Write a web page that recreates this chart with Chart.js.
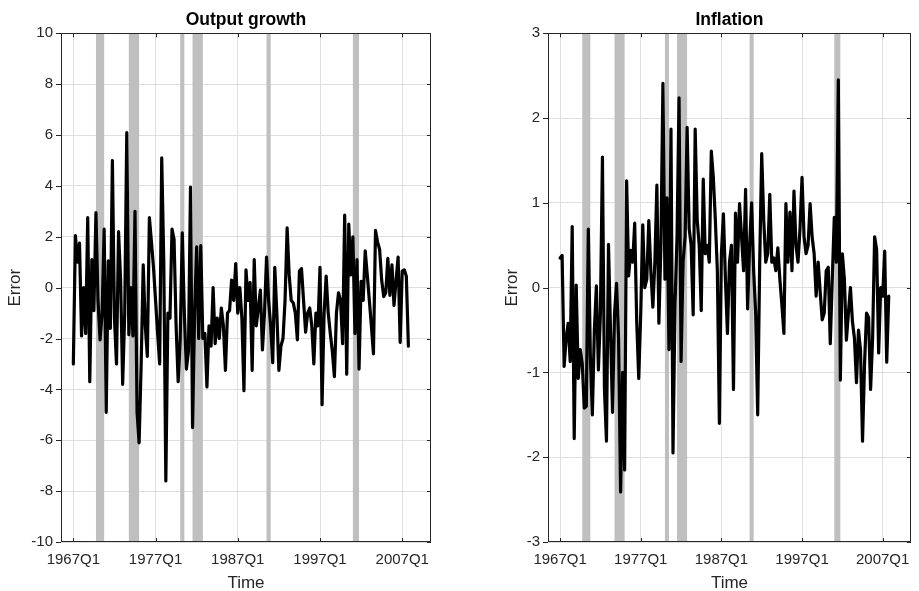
<!DOCTYPE html>
<html>
<head>
<meta charset="utf-8">
<script src="https://cdn.jsdelivr.net/npm/chart.js@4.4.1/dist/chart.umd.min.js"></script>
<style>
  body { margin: 0; background: #fff; }
  #wrap { position: relative; width: 919px; height: 591px; }
  canvas { position: absolute; top: 0; }
</style>
</head>
<body>
<div id="wrap">
  <canvas id="growthChart" width="460" height="591" style="left:0"></canvas>
  <canvas id="inflationChart" width="459" height="591" style="left:460px"></canvas>
</div>
<script>
// forecast errors, quarterly 1967Q1 - 2007Q4
const quarters = [];
for (let yr = 1967; yr <= 2007; yr++) {
  for (let q = 1; q <= 4; q++) quarters.push(yr + 'Q' + q);
}

const growthErrors = [
  -3.0, 2.05, 1.0, 1.75, -1.9, 0.0, -1.8, 2.75, -3.7, 1.1,
  -0.9, 2.95, -0.5, -2.05, -1.0, 2.3, -4.9, 1.05, -1.6, 5.0,
  -1.2, -3.0, 2.2, 0.3, -3.8, -1.0, 6.1, -1.85, 0.0, -1.9,
  3.0, -4.9, -6.1, -3.0, 0.9, -1.5, -2.7, 2.75, 1.8, 0.8,
  -0.5, -1.8, -3.0, 5.1, 1.0, -7.6, -1.0, -1.2, 2.3, 1.9,
  -1.5, -3.7, -2.0, 2.15, -1.0, -3.2, -2.5, 3.95, -5.5, -1.0,
  1.6, -2.0, 1.65, -2.0, -1.8, -3.9, -1.5, -2.3, 0.0, -2.2,
  -1.2, -2.0, -0.8, -1.5, -3.25, -1.0, -0.9, 0.3, -0.5, 0.95,
  -1.0, 0.0, -1.2, -4.05, 0.7, -0.5, 0.2, -3.25, 1.1, -1.5,
  -0.8, -0.1, -2.45, -1.0, 1.2, -0.5, -1.5, -2.95, 0.8, -1.0,
  -3.25, -2.3, -2.0, -0.5, 2.35, 0.5, -0.5, -0.6, -1.0, -2.05,
  0.65, 0.75, -0.5, -1.75, -1.0, -0.8, -1.5, -3.0, -1.0, -1.5,
  0.8, -4.6, -1.0, 0.45, -1.0, -1.8, -2.5, -3.5, -1.0, -0.2,
  -0.5, -2.2, 2.85, -3.4, 2.5, 0.5, 2.0, -1.8, 1.1, -3.2,
  0.25, -0.5, 1.45, 0.5, -0.5, -1.5, -2.6, 2.25, 1.8, 1.5,
  0.3, -0.35, -0.2, 1.15, -0.3, 0.9, -0.7, 0.3, 1.2, -2.15,
  0.65, 0.7, 0.45, -2.3
];

const inflationErrors = [
  0.35, 0.38, -0.93, -0.6, -0.42, -0.87, 0.72, -1.78, 0.03, -1.07,
  -0.73, -0.9, -1.42, -1.4, 0.69, -0.8, -1.5, -0.5, 0.02, -0.97,
  -0.3, 1.54, -1.2, -1.81, 0.51, -0.5, -1.47, -0.3, 0.05, -0.6,
  -2.41, -1.0, -2.15, 1.26, 0.14, 0.44, 0.3, 0.76, -0.4, -1.07,
  -0.3, 0.74, 0.0, 0.1, 0.79, 0.2, -0.23, 0.3, 1.21, -0.42,
  0.5, 2.41, 0.1, 1.06, -0.73, 1.87, -1.95, -0.2, 0.6, 2.24,
  -0.87, 0.3, 0.6, 1.89, 0.7, 0.5, -0.32, 1.87, 0.8, 0.5,
  -0.27, 1.28, 0.4, 0.5, 0.3, 1.61, 1.3, 0.8, 0.2, -1.6,
  0.4, 0.87, 0.1, -0.54, 0.3, 0.5, -1.2, 0.88, 0.3, 0.99,
  0.6, 0.2, 1.16, -0.25, 0.5, 1.0, 0.2, -0.3, -1.5, 0.3,
  1.58, 0.8, 0.3, 0.4, 1.1, 0.3, 0.35, 0.2, 0.47, 0.1,
  -0.2, -0.54, 0.99, 0.3, 0.89, 0.2, 1.14, 0.5, 0.3, 0.7,
  1.3, 0.6, 0.4, 0.5, 0.99, 0.6, 0.4, -0.1, 0.3, -0.05,
  -0.38, -0.3, 0.2, 0.24, -0.66, 0.1, 0.83, 0.3, 2.45, -1.09,
  0.4, 0.1, -0.62, -0.3, 0.0, -0.4, -0.6, -1.12, -0.5, -0.73,
  -1.81, -0.9, -0.3, -0.35, -1.2, -0.6, 0.6, 0.45, -0.77, 0.0,
  -0.1, 0.43, -0.88, -0.1
];

const tickYears = [1967, 1977, 1987, 1997, 2007];
const tickLabels = ['1967Q1', '1977Q1', '1987Q1', '1997Q1', '2007Q1'];

// NBER recessions (start / end as fractional years)
const recessionStart = [1969.75, 1973.75, 1980.0, 1981.5, 1990.5, 2001.0];
const recessionEnd   = [1970.75, 1975.0, 1980.5, 1982.75, 1991.0, 2001.75];

const axisColor = '#262626';
const fontFamily = "'Liberation Sans', Arial, sans-serif";

// "1967Q3" -> 1967.5
function quarterToYear(label) {
  const [yr, q] = label.split('Q');
  return Number(yr) + (Number(q) - 1) / 4;
}

const framePlugin = {
  id: 'frame',
  beforeDatasetsDraw(chart) {
    const { ctx, chartArea: a, scales: { x } } = chart;
    ctx.save();
    ctx.fillStyle = '#bfbfbf';
    recessionStart.forEach((s, k) => {
      const x0 = x.getPixelForValue(s);
      const x1 = x.getPixelForValue(recessionEnd[k]);
      ctx.fillRect(x0, a.top, x1 - x0, a.bottom - a.top);
    });
    ctx.restore();
  },
  afterDraw(chart) {
    const { ctx, chartArea: a, scales: { x, y } } = chart;
    ctx.save();
    ctx.strokeStyle = axisColor;
    ctx.lineWidth = 1;
    ctx.strokeRect(Math.round(a.left) + 0.5, Math.round(a.top) + 0.5,
                   Math.round(a.width) - 1, Math.round(a.height) - 1);
    ctx.beginPath();
    x.ticks.forEach(t => {
      const px = Math.round(x.getPixelForValue(t.value)) + 0.5;
      ctx.moveTo(px, a.bottom); ctx.lineTo(px, a.bottom - 4);
      ctx.moveTo(px, a.top); ctx.lineTo(px, a.top + 4);
    });
    y.ticks.forEach(t => {
      const py = Math.round(y.getPixelForValue(t.value)) + 0.5;
      ctx.moveTo(a.left - 5, py); ctx.lineTo(a.left, py);
      ctx.moveTo(a.right, py); ctx.lineTo(a.right - 4, py);
    });
    ctx.stroke();
    ctx.restore();
  }
};

function makeChart(id, title, values, o) {
  return new Chart(document.getElementById(id), {
    type: 'line',
    data: {
      datasets: [{
        data: quarters.map((q, i) => ({ x: quarterToYear(q), y: values[i] })),
        borderColor: '#000',
        borderWidth: 3.2,
        pointRadius: 0,
        tension: 0,
        borderJoinStyle: 'round',
        borderCapStyle: 'round'
      }]
    },
    options: {
      responsive: false,
      animation: false,
      layout: { padding: { left: 0, right: o.padRight, top: 0, bottom: 0 } },
      plugins: {
        legend: { display: false },
        tooltip: { enabled: false },
        title: {
          display: true,
          text: title,
          fullSize: false,
          color: '#000',
          font: { family: fontFamily, size: 17.5, weight: 'bold', lineHeight: 1.2 },
          padding: { top: 10, bottom: 2.3 }
        }
      },
      scales: {
        x: {
          type: 'linear',
          min: 1965.5,
          max: 2010.5,
          afterBuildTicks: s => { s.ticks = tickYears.map(v => ({ value: v })); },
          afterFit: s => { s.height = 49; },
          grid: { color: '#dfdfdf', drawTicks: false },
          border: { display: false },
          ticks: {
            autoSkip: false,
            maxRotation: 0,
            padding: 9,
            color: axisColor,
            font: { family: fontFamily, size: 15 },
            callback: (v, i) => tickLabels[i]
          },
          title: {
            display: true,
            text: 'Time',
            color: axisColor,
            font: { family: fontFamily, size: 17, lineHeight: 1 },
            padding: { top: 0, bottom: -1 }
          }
        },
        y: {
          min: o.yMin,
          max: o.yMax,
          afterFit: s => { s.width = o.yWidth; },
          grid: { color: '#dfdfdf', drawTicks: false },
          border: { display: false },
          ticks: {
            stepSize: o.yStep,
            padding: 8,
            color: axisColor,
            font: { family: fontFamily, size: 15 }
          },
          title: {
            display: true,
            text: 'Error',
            color: axisColor,
            font: { family: fontFamily, size: 17, lineHeight: 1.2 },
            padding: { top: o.yTitlePad, bottom: 0 }
          }
        }
      }
    },
    plugins: [framePlugin]
  });
}

makeChart('growthChart', 'Output growth', growthErrors,
  { yMin: -10, yMax: 10, yStep: 2, yWidth: 61, padRight: 29, yTitlePad: 5 });

makeChart('inflationChart', 'Inflation', inflationErrors,
  { yMin: -3, yMax: 3, yStep: 1, yWidth: 88, padRight: 2, yTitlePad: 42 });
</script>
</body>
</html>
